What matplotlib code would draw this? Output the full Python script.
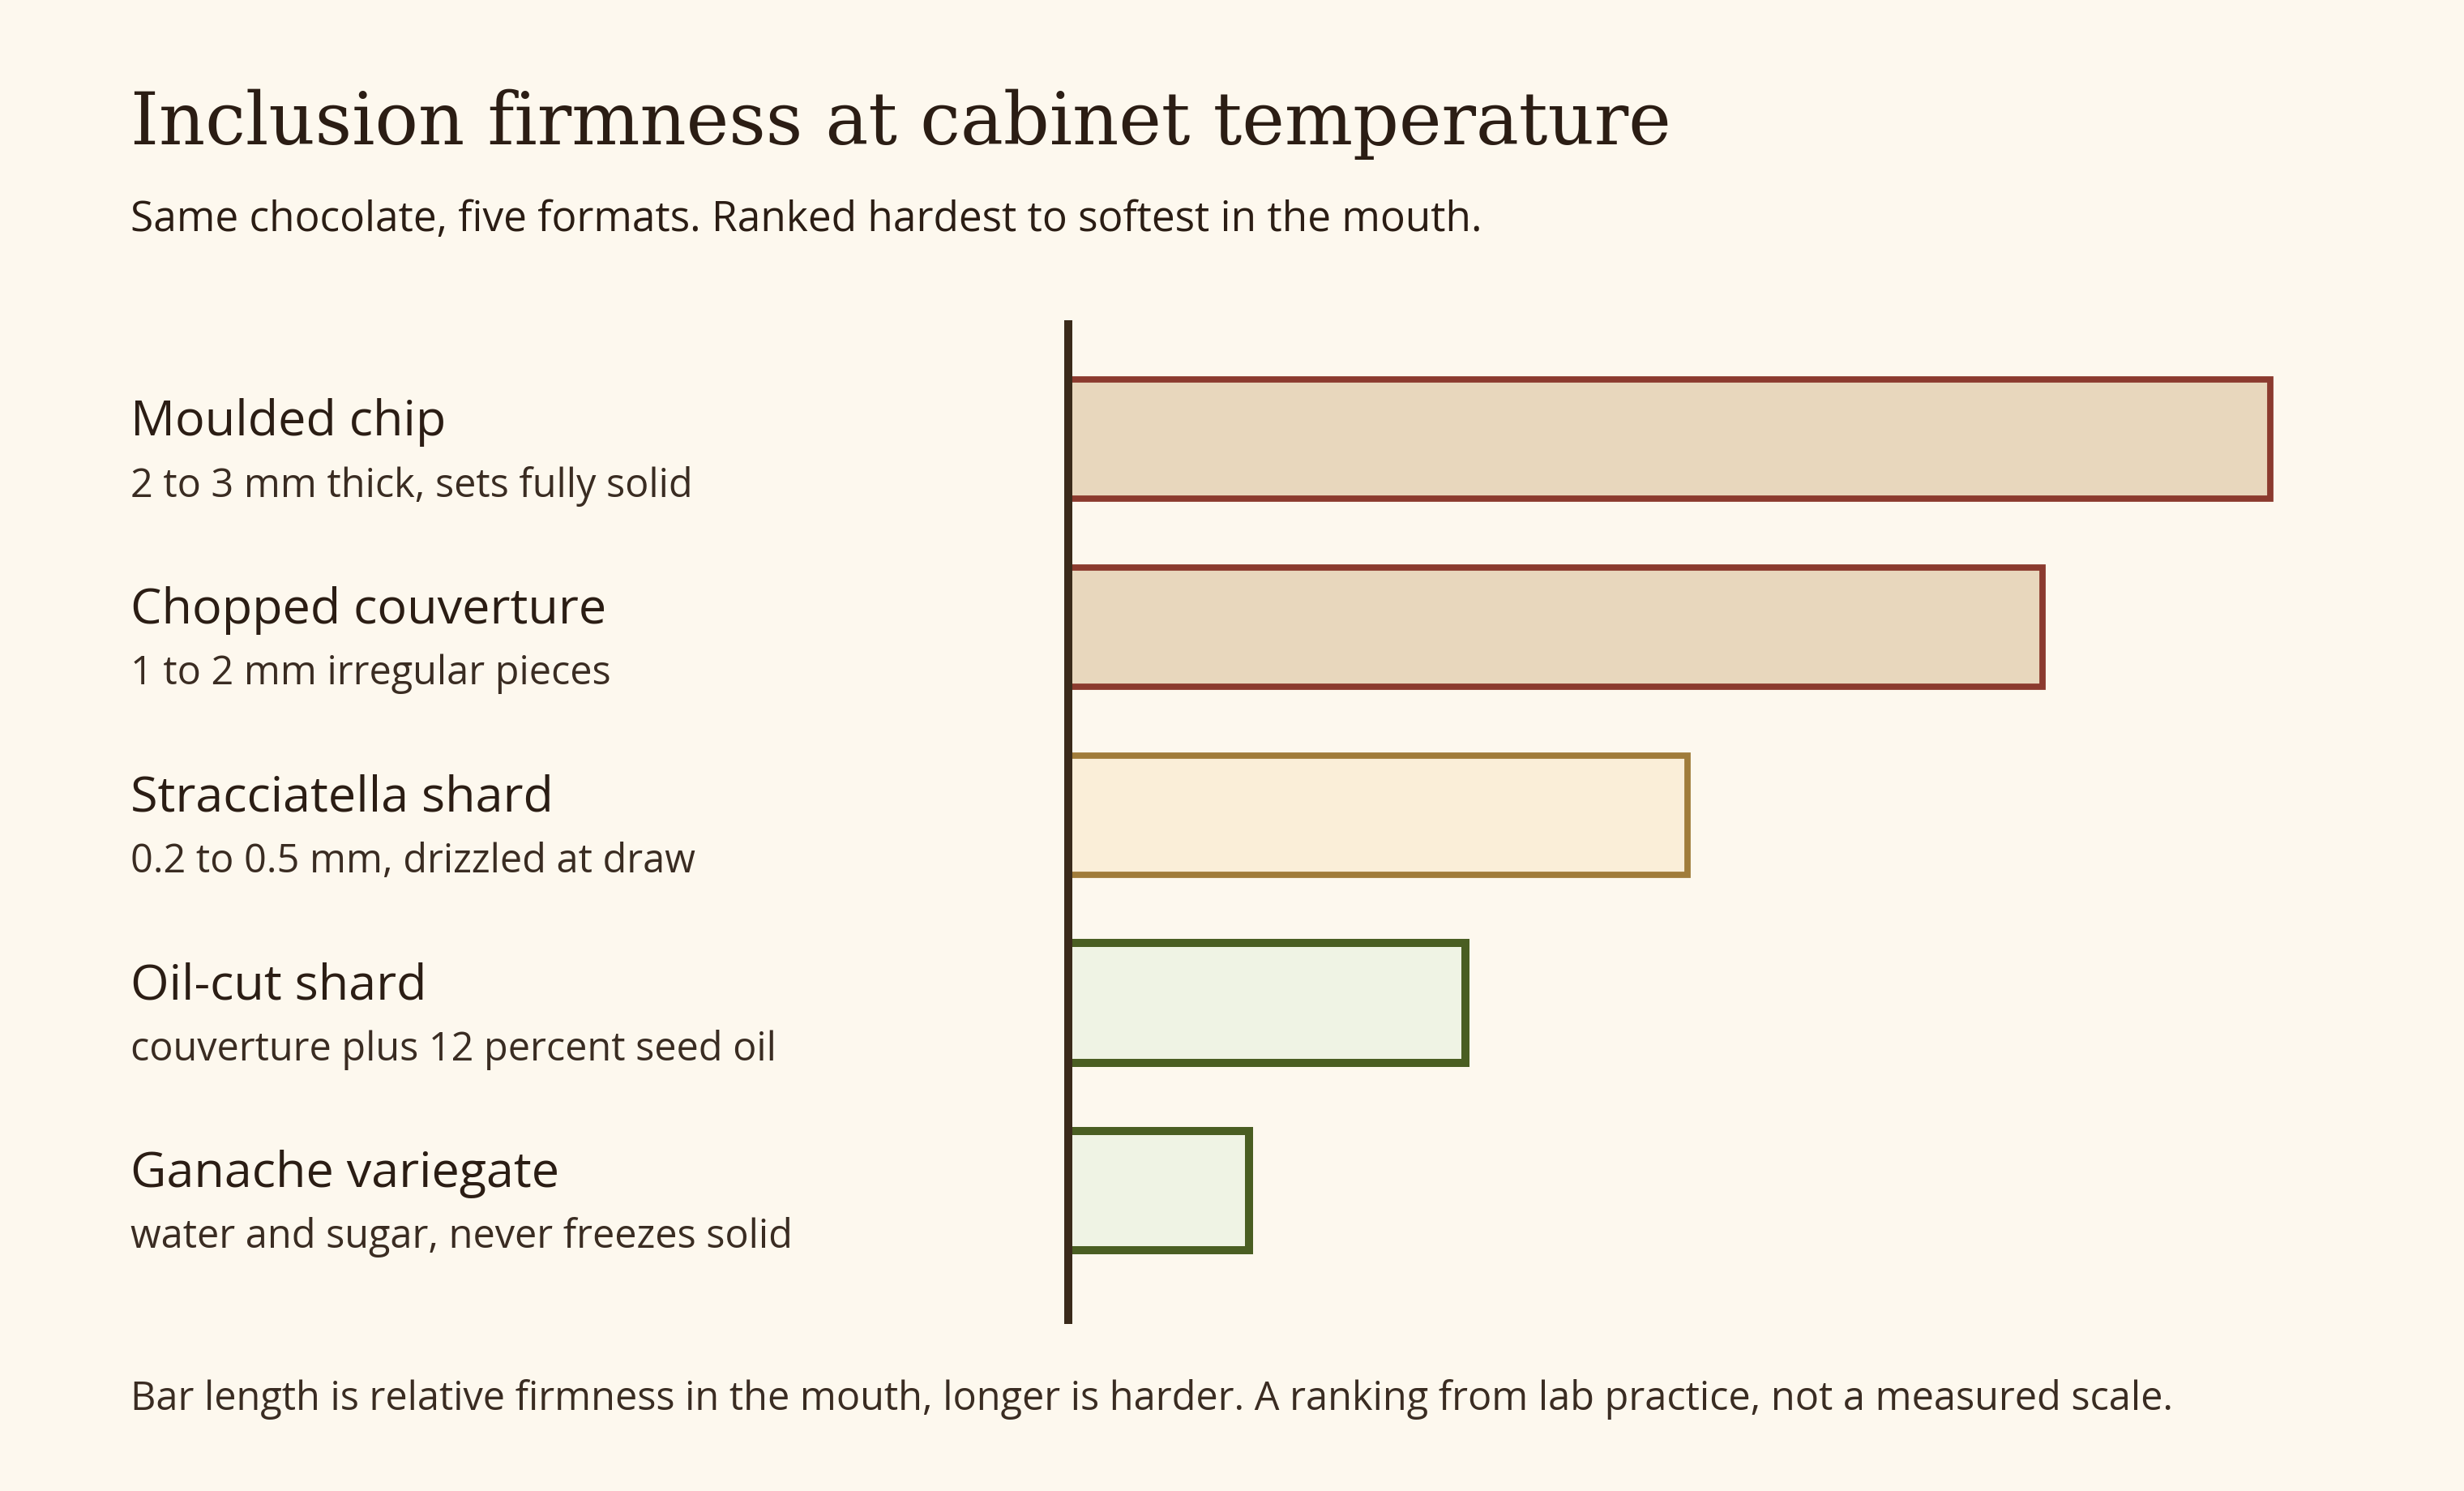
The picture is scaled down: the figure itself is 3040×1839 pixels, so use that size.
import matplotlib
matplotlib.use("Agg")
import matplotlib.pyplot as plt

categories = ["Moulded chip", "Chopped couverture", "Stracciatella shard", "Oil-cut shard", "Ganache variegate"]
details = ["2 to 3 mm thick, sets fully solid", "1 to 2 mm irregular pieces",
           "0.2 to 0.5 mm, drizzled at draw", "couverture plus 12 percent seed oil",
           "water and sugar, never freezes solid"]
firmness = [100, 81, 51.5, 33, 15]
fills = ["#e8d7bd", "#e8d7bd", "#faeed8", "#eff3e4", "#eff3e4"]
edges = ["#8b3a2e", "#8b3a2e", "#a07c3a", "#4a5e22", "#4a5e22"]
lws = [2.8, 2.8, 2.8, 3.6, 3.6]

W, H = 1568, 949
bg = "#fdf8ee"
ink = "#2b1d14"
fig = plt.figure(figsize=(15.2, 9.2), dpi=200, facecolor=bg)
def fx(x): return x / W
def fy(y): return 1 - y / H

body = ["Open Sans", "DejaVu Sans"]
fig.text(fx(83), fy(92), "Inclusion firmness at cabinet temperature", family=["DejaVu Serif"],
         fontsize=32, color=ink, va="baseline")
fig.text(fx(83), fy(147), "Same chocolate, five formats. Ranked hardest to softest in the mouth.",
         family=body, fontsize=18.5, color=ink, va="baseline")

ax = fig.add_axes([fx(680), fy(840), 1 - fx(680), (840 - 207) / H])
ax.set_facecolor(bg)
ypos = list(range(len(categories)))
ax.barh(ypos, firmness, height=0.636, color=fills, edgecolor=edges, linewidth=lws)
for i, lw in enumerate(lws):
    pass
ax.set_xlim(0, 116.1)
ax.set_ylim(4.686, -0.61)
ax.axvline(0, color="#3a2a1a", lw=3.6, clip_on=False)
ax.axis("off")

for i, (c, d) in enumerate(zip(categories, details)):
    yb = 277 + i * 119.5
    fig.text(fx(83), fy(yb), c, family=body, fontsize=22, color=ink, va="baseline")
    fig.text(fx(83), fy(yb + 39), d, family=body, fontsize=17.5, color="#3a2c22", va="baseline")

fig.text(fx(83), fy(897), "Bar length is relative firmness in the mouth, longer is harder. A ranking from lab practice, not a measured scale.",
         family=body, fontsize=17.5, color="#3a2c22", va="baseline")

fig.savefig("out.png", dpi=200, facecolor=bg)
